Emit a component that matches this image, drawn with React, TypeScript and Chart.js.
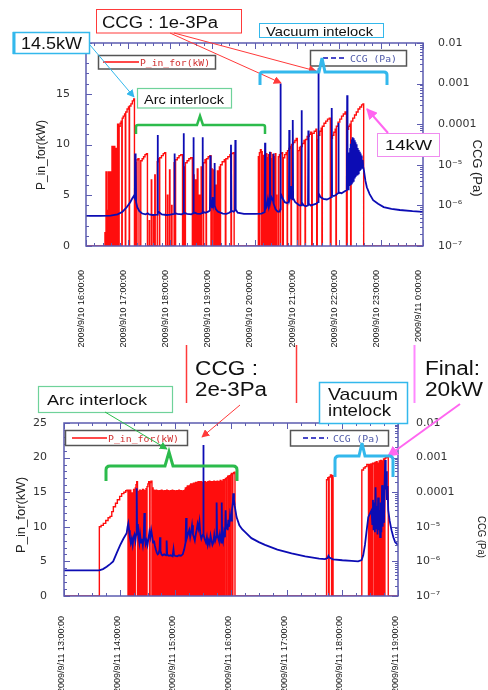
import React, { useEffect, useRef } from 'react';
import { Chart, registerables } from 'chart.js';
Chart.register(...registerables);

// ---------------- axis labels ----------------
const topXLabels = [
  '2009/9/10 16:00:00', '2009/9/10 17:00:00', '2009/9/10 18:00:00', '2009/9/10 19:00:00',
  '2009/9/10 20:00:00', '2009/9/10 21:00:00', '2009/9/10 22:00:00', '2009/9/10 23:00:00',
  '2009/9/11 0:00:00',
];
const botXLabels = [
  '2009/9/11 13:00:00', '2009/9/11 14:00:00', '2009/9/11 15:00:00', '2009/9/11 16:00:00',
  '2009/9/11 17:00:00', '2009/9/11 18:00:00', '2009/9/11 19:00:00',
];
const topKwTicks = [0, 5, 10, 15, 20];
const topKwTickText = ['0', '5', '10', '15', ''];
const botKwTicks = [0, 5, 10, 15, 20, 25];
const botKwTickText = ['0', '5', '10', '15', '20', '25'];
const ccgTicks = [1e-7, 1e-6, 1e-5, 1e-4, 1e-3, 1e-2];
const ccgTickText = ['10⁻⁷', '10⁻⁶', '10⁻⁵', '0.0001', '0.001', '0.01'];

// ---------------- top chart data (minutes after 2009/9/10 16:00) ----------------
// P_in_for (kW), stepped: each value holds until the next time
const topPower: [number, number][] = [
  [0, 0],
  [27, 1.3], [28, 0], [28.5, 7.3], [29.2, 0], [30, 3.5], [30.6, 0], [31.5, 7.3], [33, 0], [33.6, 2], [34.2, 0], [35, 7.3], [35.8, 0],
  [37, 9.8], [38.2, 0], [39, 9.8], [41, 0], [42, 9.6], [43, 0], [45, 12.0], [46.4, 0], [47.2, 11.8], [48.6, 12.1], [50, 12.3], [51, 0],
  [51.6, 12.6], [53, 12.8], [55, 13.0], [56, 0], [56.6, 13.2], [58.5, 13.5], [60.5, 13.7], [61.5, 0], [62, 13.8], [64, 14.0], [66, 14.3], [68, 14.5], [69, 0],
  [71, 8.2], [72, 0], [72.6, 8.5], [74, 8.6], [75.5, 0],
  [78, 8.4], [80, 8.6], [82, 8.8], [84, 9.0], [86, 9.1], [87.5, 0],
  [90, 2.5], [90.5, 0], [93, 6.5], [93.6, 0], [96, 3], [96.5, 0], [98, 7], [98.6, 0],
  [101.5, 8.3], [103, 8.6], [104.5, 0], [105, 8.7], [107.5, 8.9], [110, 9.1], [112, 9.2], [113.5, 0],
  [116, 5], [116.6, 0], [119, 7.5], [119.6, 0], [122, 4], [122.5, 0],
  [125.5, 8.2], [127, 0], [127.6, 8.5], [130, 8.7], [132.5, 8.9], [135, 9.0], [137.5, 0],
  [139.5, 7.8], [141, 0], [141.6, 8.2], [144, 8.4], [146.5, 8.6], [149, 8.7], [151.5, 0],
  [153, 7], [154, 0], [156, 6.5], [156.7, 0], [158.5, 7.6], [159.5, 0], [161.5, 5], [162, 0], [164, 7.8], [165, 0],
  [167.5, 8.2], [169.5, 8.5], [171, 0], [171.6, 8.6], [174, 8.8], [176.5, 8.9], [178, 0], [179, 7.6], [179.8, 0],
  [182, 7.5], [183, 0], [185, 6], [185.6, 0], [187.2, 7.4], [188, 0],
  [190, 7.8], [191, 0], [191.6, 8.0], [194, 8.3], [197, 8.5], [198.5, 0], [199.2, 8.6], [202, 8.8], [205, 9.0], [206.5, 0], [207.2, 9.1], [209.5, 9.2], [211, 0],
  [245.5, 8.8], [246.5, 0], [247, 9.2], [248.5, 9.5], [249.5, 0], [250.2, 9.3], [251, 0], [251.6, 2.5], [252, 0],
  [252.8, 8.9], [253.4, 0], [254.2, 9.0], [254.8, 0], [255.6, 8.8], [256.2, 0], [257, 9.1], [257.6, 0], [258.4, 8.7], [259, 0],
  [260, 9.0], [260.6, 0], [261.4, 8.9], [262, 0], [263, 9.2], [263.6, 0], [264.4, 8.6], [265, 0], [266, 9.0], [266.7, 0],
  [267.8, 8.8], [268.4, 0], [269.6, 9.1], [270.4, 0], [271.2, 5], [271.7, 0],
  [274, 8.8], [275.5, 9.0], [276.5, 0], [277.2, 9.1], [279, 9.2], [280, 0],
  [281, 8.7], [283, 9.0], [285, 9.2], [286.5, 0], [287, 9.4], [289, 9.6], [291, 9.8], [292, 0], [292.6, 10.0], [295, 10.2], [297.5, 10.4], [299.5, 10.6], [301, 0],
  [302, 9.4], [304, 9.7], [305, 0], [305.6, 9.8], [308, 10.1], [310.5, 10.4], [312, 0], [312.6, 10.5], [315, 10.8], [318, 11.0], [320, 11.2], [321.5, 0],
  [322.2, 11.1], [325, 11.3], [327.5, 11.5], [328.6, 0],
  [329.4, 10.5], [331, 10.9], [333, 11.3], [335, 11.6], [336, 0], [336.6, 11.8], [339, 12.1], [341.5, 12.3], [344, 12.5], [346.5, 12.6], [348, 0],
  [349, 10.6], [351, 10.9], [353, 11.2], [355, 11.5], [356, 0], [356.6, 11.8], [359, 12.2], [361.5, 12.5], [364, 12.8], [366.5, 13.0], [369, 13.2], [371, 0],
  [372, 11.5], [374, 11.8], [376, 12.0], [377, 0], [377.6, 12.3], [380, 12.6], [382.5, 12.9], [385, 13.2], [387.5, 13.5], [390, 13.7], [392.5, 13.9], [394.5, 14.0], [395.5, 0],
  [480, 0],
];

// CCG (Pa)
const topCCG: [number, number][] = [
  [0, 5.5e-7], [20, 5.5e-7], [35, 5.6e-7], [45, 6e-7], [52, 7e-7], [58, 9e-7], [63, 1.2e-6], [66, 1.5e-6], [68, 1.7e-6],
  [69.5, 1.5e-6], [70, 1.9e-5], [70.4, 1.4e-6], [71, 1.2e-5], [71.4, 1.2e-6], [73, 9e-7], [76, 7.2e-7], [80, 6.3e-7], [85, 6e-7], [88, 6.4e-7], [90, 6e-7], [95, 5.8e-7],
  [101.5, 5.9e-7], [102, 5.4e-5], [102.5, 6.5e-7], [104, 6.8e-7], [108, 6e-7], [115, 5.8e-7], [120, 5.9e-7],
  [125.5, 6.2e-7], [126, 1.9e-5], [126.5, 6.5e-7], [130, 6.2e-7], [136, 6e-7],
  [138.5, 6.3e-7], [139, 6e-5], [139.5, 6.6e-7], [144, 6.2e-7], [150, 6e-7],
  [152.5, 6.4e-7], [153, 4.8e-5], [153.5, 6.8e-7], [158, 6.3e-7], [163, 6.2e-7],
  [165.5, 6.5e-7], [166, 4.8e-5], [166.5, 7e-7], [170, 6.6e-7], [174, 7e-7],
  [176.5, 7.5e-7], [177, 1.7e-5], [177.5, 9e-7], [178.5, 1.4e-6], [179.5, 9e-7], [180.5, 1.6e-6], [181.5, 1e-6], [182.5, 1.2e-6], [183, 1.1e-5], [183.5, 1e-6],
  [185, 8e-7], [188, 7e-7], [195, 6.3e-7], [200, 6.2e-7], [204, 6.6e-7],
  [206, 7e-7], [206.5, 3.1e-5], [207, 7.5e-7], [210, 7e-7], [212.2, 7.5e-7], [212.7, 4.1e-5], [213.2, 8e-7], [216, 6.6e-7], [225, 6.2e-7], [240, 6.2e-7], [250, 6.3e-7],
  [254.5, 6.8e-7], [255, 3.5e-5], [255.5, 8e-7], [257, 9e-7], [259, 1.4e-6], [260, 1e-6], [261.5, 1.5e-6], [262, 2.1e-5], [262.5, 1.2e-6], [264, 1.6e-6],
  [266.5, 1.3e-6], [267, 1.9e-5], [267.5, 1.1e-6], [270, 8e-7], [273, 7e-7], [276, 7e-7],
  [276.6, 8e-7], [277, 1.0e-3], [277.4, 2e-6], [280, 1.5e-6], [283, 1.2e-6], [286, 1.15e-6],
  [289, 1.2e-6], [289.5, 7.2e-5], [290, 1.4e-6], [291, 1.6e-6], [292, 3e-6], [293, 1.5e-6], [294, 1.4e-6], [294.5, 1.26e-4], [295, 1.5e-6],
  [298, 1.2e-6], [301, 1.1e-6], [304, 1e-6],
  [306.5, 1e-6], [307, 2.2e-4], [307.5, 1.2e-6], [310, 1e-6], [313, 9.5e-7], [316.2, 1e-6], [316.7, 7e-5], [317.2, 1.1e-6], [320, 1e-6], [324, 1.05e-6], [328, 1.1e-6],
  [330.5, 1.2e-6], [331, 2.4e-3], [331.5, 2e-6], [334, 1.6e-6], [338, 1.45e-6], [343, 1.4e-6], [347, 1.5e-6],
  [349.5, 1.6e-6], [350, 2.5e-4], [350.5, 1.8e-6], [353, 1.7e-6], [356, 1.8e-6], [359, 2e-6], [359.5, 1.07e-4], [360, 2.1e-6], [364, 2e-6], [368, 2.2e-6],
  [371.5, 2.4e-6], [372, 5.2e-4], [372.5, 3e-6],
  [373.2, 2.5e-6], [373.8, 1.5e-5], [374.4, 2.8e-6], [375, 2e-5], [375.6, 3e-6], [376.2, 2.6e-5], [376.8, 3.2e-6], [377.4, 3.3e-5], [378, 3.5e-6],
  [378.6, 4.2e-5], [379.2, 3.8e-6], [379.8, 4.8e-5], [380.4, 4e-6], [381, 4.5e-5], [381.6, 4.3e-6], [382.2, 4e-5], [382.8, 4.6e-6], [383.4, 3.6e-5],
  [384, 5e-6], [384.6, 3.2e-5], [385.2, 5.4e-6], [385.8, 2.9e-5], [386.4, 5.8e-6], [387, 2.6e-5], [387.6, 6.2e-6], [388.2, 2.3e-5], [388.8, 6.6e-6],
  [389.4, 2.1e-5], [390, 7e-6], [390.6, 1.9e-5], [391.2, 7.5e-6], [391.8, 1.7e-5], [392.4, 8e-6], [393, 1.5e-5], [393.6, 8.5e-6], [394.2, 1.3e-5], [394.8, 9e-6],
  [396, 7e-6], [398, 4e-6], [400, 2.8e-6], [404, 1.9e-6], [409, 1.35e-6], [416, 1.1e-6], [424, 9.1e-7], [435, 8.2e-7], [447, 7.7e-7], [465, 7.2e-7], [480, 6.9e-7],
];

// ---------------- bottom chart data (minutes after 2009/9/11 13:00) ----------------
const botPower: [number, number][] = [
  [0, 0],
  [38.1, 10.0], [40, 10.2], [42.4, 10.5], [45, 10.9], [47.5, 11.3], [49.6, 11.5], [51.5, 12.2], [53.2, 12.9], [55.5, 13.4], [57.5, 13.9],
  [60, 14.4], [62.1, 14.8], [64.5, 15.0], [66.5, 15.2], [67.8, 15.3], [69, 0],
  [69.6, 15.3], [70.2, 0], [71.4, 15.3], [72, 0], [73.5, 14.9], [74.1, 0], [75, 15.4], [76.2, 0], [76.8, 15.6], [77.6, 16.1], [78.4, 16.5], [79.2, 0],
  [80.1, 15.1], [80.6, 0], [81.4, 15.3], [82.3, 0], [83.3, 15.2], [83.8, 0], [84.6, 15.4], [85.5, 0], [86, 15.3], [86.5, 0], [87.2, 15.2], [87.7, 0],
  [88.4, 15.5], [89, 0], [89.5, 15.8], [90.4, 16.2], [91.3, 16.5], [92.2, 0], [92.8, 16.4], [93.8, 16.6], [94.8, 0], [95.4, 15.6], [96, 0],
  [96.7, 15.3], [97.2, 0], [97.9, 15.2], [98.6, 0], [99.2, 15.3], [99.8, 0],
  [100.3, 15.2], [100.9, 0], [101.4, 15.1], [102.1, 0], [102.5, 15.2], [103.2, 0], [103.9, 15.2], [104.3, 0], [104.9, 15.3], [105.6, 0],
  [106, 15.2], [106.8, 0], [107.2, 15.1], [107.7, 0], [108.5, 15.2], [109, 0], [109.4, 15.2], [110.1, 0], [110.7, 15.3], [111.2, 0],
  [111.9, 15.2], [112.4, 0], [113, 15.1], [113.8, 0], [114.2, 15.2], [114.9, 0], [115.5, 15.2], [116, 0], [116.7, 15.3], [117.1, 0],
  [117.9, 15.2], [118.5, 0], [119, 15.2], [119.7, 0], [120.2, 15.1], [120.8, 0], [121.5, 15.2], [122, 0], [122.6, 15.2], [123.3, 0],
  [123.8, 15.3], [124.4, 0], [125, 15.2], [125.6, 0], [126.3, 15.2], [126.8, 0], [127.4, 15.1], [128.1, 0], [128.6, 15.2], [129.3, 0],
  [130, 15.3], [130.8, 15.6], [131.5, 0], [132.2, 15.7], [133, 15.9], [133.6, 0], [134.4, 15.9], [135, 0], [135.8, 16.0], [136.6, 16.2], [137.3, 0],
  [138, 16.2], [138.6, 0], [139.5, 16.3], [140.2, 0], [140.9, 16.3], [141.8, 16.4], [142.4, 0], [143.2, 16.4], [143.8, 0], [144.5, 16.5], [145.3, 0],
  [146, 16.5], [146.6, 0],
  [147.3, 16.5], [148, 0], [148.8, 16.4], [149.5, 0], [150.2, 16.5], [151, 0], [151.6, 16.5], [152.4, 0], [153.5, 16.4], [154.1, 0], [155, 16.5], [155.8, 0],
  [156.6, 16.6], [157.2, 0], [158.4, 16.5], [159, 0], [160, 16.5], [160.8, 0], [161.5, 16.6], [162.3, 0], [163.4, 16.5], [164, 0], [165, 16.6], [165.8, 0],
  [166.5, 16.5], [167.2, 0], [168.3, 16.7], [169, 0], [170, 16.6], [170.7, 0], [171.6, 16.8], [172.4, 0], [173.2, 16.8], [174, 17.0], [174.8, 0],
  [175.6, 17.1], [176.4, 17.3], [177.2, 0], [178, 17.4], [178.8, 0], [179.6, 17.5], [180.4, 17.7], [181.2, 0], [182, 17.7], [182.8, 17.8], [183.6, 17.9], [184.3, 0],
  [283, 16.8], [284.3, 17.1], [285.2, 0], [285.8, 17.2], [287.2, 17.5], [288.4, 0], [289, 17.4], [290, 0],
  [321, 18.2], [322.8, 18.5], [324.6, 18.7], [326.4, 19.0], [328.2, 0], [328.9, 19.0], [330.2, 0], [330.8, 19.1], [331.8, 0], [332.6, 19.2], [333.6, 19.1], [334.4, 0],
  [335.1, 19.3], [335.9, 0], [336.6, 19.4], [337.5, 0], [338.3, 19.2], [339, 0], [339.8, 19.5], [340.7, 0], [341.3, 19.6], [342.1, 0], [342.9, 19.5], [343.7, 0],
  [344.4, 19.8], [345.3, 0], [345.9, 19.9], [346.8, 20.0], [347.9, 20.0], [349.5, 0],
  [360, 0],
];

const botCCG: [number, number][] = [
  [0, 5.5e-7], [38, 5.5e-7], [42, 6e-7], [46, 7e-7], [50, 8.5e-7], [53, 1e-6], [57, 1.8e-6], [60.4, 2.9e-6], [64, 4.5e-6], [67.5, 6.5e-6], [68.5, 1.0e-5], [69.3, 1.26e-5],
  [70.2, 8e-6], [71, 5e-6], [72, 3.4e-6], [73, 4.5e-6], [74, 3e-6], [75, 5e-6], [76, 6e-6], [77, 4e-6], [77.8, 6e-6], [78.3, 1.3e-4], [78.8, 8e-6], [79.6, 1.2e-5],
  [80.4, 5e-6], [81.2, 3.5e-6], [82, 6e-6], [83, 3.5e-6], [84, 4.5e-6], [85, 3e-6], [86, 5.5e-6], [86.6, 2.5e-5], [87.2, 5e-6], [88, 3.2e-6], [89, 4e-6],
  [90, 3e-6], [91, 4.5e-6], [92, 7e-6], [93, 5e-6], [94, 8e-6], [95, 5.5e-6], [96, 3.5e-6], [97, 4e-6], [98, 2.8e-6],
  [99, 2.2e-6], [100, 1.8e-6], [101, 1.6e-6], [102, 1.7e-6], [103, 2.2e-6], [103.5, 5e-6], [104, 2e-6], [105, 1.6e-6], [106, 1.5e-6], [108, 1.6e-6], [110, 1.5e-6],
  [110.6, 4e-6], [111.2, 1.6e-6], [113, 1.45e-6], [115, 1.5e-6], [117, 1.4e-6], [118, 2.2e-6], [118.6, 1.5e-6], [120, 1.45e-6], [122, 1.4e-6], [124, 1.5e-6],
  [126, 1.45e-6], [128, 1.6e-6],
  [129.5, 2.2e-6], [131, 3.5e-6], [131.6, 1.8e-5], [132.2, 4.5e-6], [133.5, 6e-6], [135, 8e-6], [136, 5e-6], [137, 7e-6], [138, 1.1e-5], [139, 6e-6], [140, 5e-6],
  [141, 4e-6], [142, 6e-6], [143, 8e-6], [144, 1.2e-5], [145, 9e-6], [146, 1.4e-5], [147, 6e-6], [148, 4.5e-6], [149, 5.5e-6],
  [149.9, 6e-6], [150.2, 2.3e-3], [150.5, 6e-6], [151.5, 4.5e-6], [153, 3.5e-6], [154, 5e-6], [155, 3e-6], [156, 4e-6], [157, 3.2e-6], [158, 5.5e-6], [159, 4e-6],
  [160, 3e-6], [161, 3.5e-6], [162, 6e-6], [163, 4e-6], [164, 5e-6], [164.5, 5e-5], [165, 7e-6], [166, 5e-6], [167, 4e-6], [168, 6e-6], [169.5, 3.5e-6],
  [170, 5e-5], [170.5, 6e-6], [171.5, 4e-6], [172.5, 7e-6], [173.5, 5e-6], [174.2, 3e-5], [174.8, 9e-6], [175.6, 1.2e-5], [176.4, 8e-6], [177.2, 1.6e-5],
  [178, 1e-5], [179, 2.2e-5], [180, 1.5e-5], [181, 3e-5], [182, 5e-5], [182.5, 9.3e-5], [183.2, 6e-5], [184, 4e-5],
  [186, 1.9e-5], [189, 1.1e-5], [192, 8.5e-6], [195, 7.1e-6], [202, 4.7e-6], [210, 3.6e-6], [216.6, 3e-6], [230, 2.2e-6], [245.3, 1.7e-6], [260, 1.4e-6],
  [275, 1.2e-6], [281.3, 1.16e-6], [284, 1.25e-6], [285, 1.45e-6], [286, 1.3e-6], [290, 1.15e-6], [300, 1.08e-6], [310, 1.03e-6], [317, 1e-6],
  [320.8, 1.1e-6], [322.5, 1.5e-6], [324.4, 3e-6], [326, 7e-6], [328, 1.9e-5], [330, 2.5e-5], [331.5, 3e-5],
  [332.3, 1.2e-5], [333, 6e-5], [333.7, 8e-6], [334.4, 5e-5], [335.1, 7e-6], [335.8, 1.4e-4], [336.5, 9e-6], [337.2, 4e-5], [337.9, 6e-6], [338.6, 7e-5],
  [339.3, 8e-6], [340, 3e-5], [340.7, 5e-6], [341.4, 5e-5], [342.1, 7e-6], [342.8, 1.6e-4], [343.5, 1e-5], [344.2, 6e-5], [344.9, 1.3e-5], [345.6, 2e-4],
  [346.2, 8.5e-4], [346.8, 1.2e-4], [347.4, 4e-4], [348, 6e-5], [348.7, 1.5e-4], [349.5, 3e-5],
  [351, 1.5e-5], [353, 8e-6], [355, 5e-6], [357, 3.6e-6], [360, 3e-6],
];

// ---------------- chart building ----------------
const FRAME = '#5c5cb0';
const RED = '#ff0d0d';
const BLUE = '#0c0cb4';

function framePlugin(xMinor: number) {
  return {
    id: 'frameTicks',
    afterDatasetsDraw(chart: any) {
      const { ctx, chartArea: a, scales } = chart;
      const sx = scales.x, sy = scales.y, sy2 = scales.y2;
      ctx.save();
      ctx.strokeStyle = FRAME;
      ctx.lineWidth = 1;
      const seg = (x1: number, y1: number, x2: number, y2: number) => {
        ctx.beginPath(); ctx.moveTo(x1, y1); ctx.lineTo(x2, y2); ctx.stroke();
      };
      for (let v = 0; v <= sy.max + 1e-9; v += 1) {
        const p = Math.round(sy.getPixelForValue(v)) + 0.5;
        seg(a.left, p, a.left + (v % 5 === 0 ? 6 : 3), p);
      }
      for (let e = -7; e <= -2; e++) {
        for (let m = 1; m <= 9; m++) {
          const v = m * Math.pow(10, e);
          if (v > sy2.max * 1.0001) break;
          const p = Math.round(sy2.getPixelForValue(v)) + 0.5;
          seg(a.right, p, a.right - (m === 1 ? 6 : 3), p);
        }
      }
      for (let t = 0; t <= sx.max + 1e-9; t += xMinor) {
        const p = Math.round(sx.getPixelForValue(t)) + 0.5;
        const len = t % 60 === 0 ? 6 : 3;
        seg(p, a.bottom, p, a.bottom - len);
        seg(p, a.top, p, a.top + len);
      }
      ctx.lineWidth = 1.5;
      ctx.strokeRect(a.left, a.top, a.right - a.left, a.bottom - a.top);
      ctx.restore();
    },
  };
}

type Spec = {
  power: [number, number][];
  ccg: [number, number][];
  xMax: number;
  xLabels: string[];
  xPad: number;
  xLabelOffset: number;
  kwTicks: number[];
  kwText: string[];
  padTop: number;
  leftW: number;
  rightW: number;
  bottomH: number;
  yPadL: number;
  yPadR: number;
  xMinor: number;
};

function buildConfig(s: Spec): any {
  const tickFont = { family: 'DejaVu Sans', size: 11 };
  return {
    type: 'line',
    data: {
      datasets: [
        {
          label: 'CCG (Pa)',
          data: s.ccg.map(([x, y]) => ({ x, y })),
          yAxisID: 'y2',
          borderColor: BLUE,
          borderWidth: 1.8,
          pointRadius: 0,
          pointHitRadius: 0,
          tension: 0,
          order: 0,
        },
        {
          label: 'P_in_for(kW)',
          data: s.power.map(([x, y]) => ({ x, y })),
          yAxisID: 'y',
          borderColor: RED,
          borderWidth: 1.4,
          pointRadius: 0,
          pointHitRadius: 0,
          stepped: true,
          order: 1,
        },
      ],
    },
    options: {
      responsive: false,
      animation: false,
      events: [],
      layout: { padding: { top: s.padTop, left: 0, right: 0, bottom: 0 }, autoPadding: false },
      plugins: { legend: { display: false }, tooltip: { enabled: false } },
      scales: {
        x: {
          type: 'linear',
          min: 0,
          max: s.xMax,
          afterBuildTicks: (sc: any) => { sc.ticks = s.xLabels.map((_, i) => ({ value: i * 60 })); },
          afterFit: (sc: any) => { sc.height = s.bottomH; },
          grid: { display: false },
          border: { display: false },
          ticks: {
            autoSkip: false,
            minRotation: 90,
            maxRotation: 90,
            padding: s.xPad,
            labelOffset: s.xLabelOffset,
            color: '#111',
            font: { family: 'Liberation Sans', size: 9 },
            callback: (_v: any, i: number) => s.xLabels[i],
          },
        },
        y: {
          type: 'linear',
          position: 'left',
          min: 0,
          max: s.kwTicks[s.kwTicks.length - 1],
          afterBuildTicks: (sc: any) => { sc.ticks = s.kwTicks.map((v) => ({ value: v })); },
          afterFit: (sc: any) => { sc.width = s.leftW; },
          grid: { display: false },
          border: { display: false },
          ticks: {
            autoSkip: false,
            padding: s.yPadL,
            color: '#333',
            font: tickFont,
            callback: (_v: any, i: number) => s.kwText[i],
          },
        },
        y2: {
          type: 'logarithmic',
          position: 'right',
          min: ccgTicks[0],
          max: ccgTicks[ccgTicks.length - 1],
          afterBuildTicks: (sc: any) => { sc.ticks = ccgTicks.map((v) => ({ value: v })); },
          afterFit: (sc: any) => { sc.width = s.rightW; },
          grid: { display: false },
          border: { display: false },
          ticks: {
            autoSkip: false,
            padding: s.yPadR,
            color: '#333',
            font: tickFont,
            callback: (_v: any, i: number) => ccgTickText[i],
          },
        },
      },
    },
    plugins: [framePlugin(s.xMinor)],
  };
}

function PlotCanvas({ spec, top, height }: { spec: Spec; top: number; height: number }) {
  const ref = useRef<HTMLCanvasElement>(null);
  useEffect(() => {
    const chart = new Chart(ref.current as HTMLCanvasElement, buildConfig(spec));
    return () => chart.destroy();
  }, []);
  return (
    <canvas
      ref={ref}
      width={488}
      height={height}
      style={{ position: 'absolute', left: 0, top, width: 488, height, display: 'block' }}
    />
  );
}

const topSpec: Spec = {
  power: topPower, ccg: topCCG, xMax: 480, xLabels: topXLabels, xPad: 16, xLabelOffset: -4.5,
  kwTicks: topKwTicks, kwText: topKwTickText, padTop: 43, leftW: 86, rightW: 65, bottomH: 104,
  yPadL: 8, yPadR: 7, xMinor: 12,
};
const botSpec: Spec = {
  power: botPower, ccg: botCCG, xMax: 360, xLabels: botXLabels, xPad: 12, xLabelOffset: -2.5,
  kwTicks: botKwTicks, kwText: botKwTickText, padTop: 73, leftW: 64, rightW: 90, bottomH: 94,
  yPadL: 9, yPadR: 10, xMinor: 15,
};

// ---------------- annotations ----------------
const SANS = 'Liberation Sans, Arial, sans-serif';
const MONO = 'DejaVu Sans Mono, monospace';
const C_RED = '#ff3a3a';
const C_CYAN = '#33b8ec';
const C_MAG = '#ff66f0';
const C_GREEN = '#2cbb4c';
const C_GREEN_BOX = '#6fd29a';

function T({ x, y, s, len, text, fill = '#111', family = SANS }: any) {
  return (
    <text x={x} y={y} fontSize={s} fontFamily={family} fill={fill} textLength={len} lengthAdjust="spacingAndGlyphs">
      {text}
    </text>
  );
}

function Overlay() {
  const marker = (id: string, c: string, size: number) => (
    <marker id={id} viewBox="0 0 10 10" refX="9" refY="5" markerWidth={size} markerHeight={size}
      markerUnits="userSpaceOnUse" orient="auto">
      <path d="M0,0 L10,5 L0,10 z" fill={c} />
    </marker>
  );
  return (
    <svg width={488} height={690} style={{ position: 'absolute', left: 0, top: 0 }}>
      <defs>
        {marker('ahR', C_RED, 8)}
        {marker('ahC', C_CYAN, 8)}
        {marker('ahM', C_MAG, 11)}
        {marker('ahG', C_GREEN, 8)}
      </defs>

      {/* axis titles */}
      <text transform="translate(41,155) rotate(-90)" textAnchor="middle" dominantBaseline="central"
        fontSize={12.5} fontFamily={SANS} fill="#222" textLength={70} lengthAdjust="spacingAndGlyphs">P_in_for(kW)</text>
      <text transform="translate(477,168) rotate(90)" textAnchor="middle" dominantBaseline="central"
        fontSize={13} fontFamily={SANS} fill="#222" textLength={57} lengthAdjust="spacingAndGlyphs">CCG (Pa)</text>
      <text transform="translate(20,515) rotate(-90)" textAnchor="middle" dominantBaseline="central"
        fontSize={13} fontFamily={SANS} fill="#222" textLength={76} lengthAdjust="spacingAndGlyphs">P_in_for(kW)</text>
      <text transform="translate(482,537) rotate(90)" textAnchor="middle" dominantBaseline="central"
        fontSize={11} fontFamily={SANS} fill="#222" textLength={42} lengthAdjust="spacingAndGlyphs">CCG (Pa)</text>

      {/* ---- top legends ---- */}
      <rect x={98.5} y={55.5} width={117} height={13.5} fill="#fff" stroke="#555" strokeWidth={1.5} />
      <line x1={103} y1={62} x2={139} y2={62} stroke={RED} strokeWidth={1.5} />
      <T x={140} y={65.5} s={9.5} len={70} text="P_in_for(kW)" fill="#d03030" family={MONO} />
      <rect x={310.5} y={50.5} width={96} height={15.5} fill="#fff" stroke="#555" strokeWidth={1.5} />
      <line x1={323} y1={58} x2={347} y2={58} stroke={BLUE} strokeWidth={1.5} strokeDasharray="5 3" />
      <T x={350} y={61.5} s={9.5} len={47} text="CCG (Pa)" fill="#4d58a8" family={MONO} />

      {/* ---- top annotations ---- */}
      <rect x={96.5} y={9.5} width={145} height={23.5} fill="#fff" stroke={C_RED} strokeWidth={1} />
      <T x={102} y={27.5} s={16} len={116} text="CCG : 1e-3Pa" />
      <line x1={170} y1={33} x2={281} y2={83} stroke={C_RED} strokeWidth={1} markerEnd="url(#ahR)" />
      <line x1={174} y1={33} x2={316} y2={71} stroke={C_RED} strokeWidth={1} markerEnd="url(#ahR)" />

      <rect x={13.5} y={32.5} width={76} height={21} fill="#fff" stroke={C_CYAN} strokeWidth={1.5} />
      <line x1={14} y1={32} x2={14} y2={54} stroke={C_CYAN} strokeWidth={3} />
      <T x={21} y={48.5} s={16} len={61} text="14.5kW" />
      <line x1={90} y1={45} x2={134} y2={97} stroke={C_CYAN} strokeWidth={1} markerEnd="url(#ahC)" />

      <rect x={259.5} y={23.5} width={124} height={14} fill="#fff" stroke={C_CYAN} strokeWidth={1} />
      <T x={266} y={35.5} s={13} len={107} text="Vacuum intelock" />
      <path d="M260,85 L260,75 Q260,72 263,72 L319,72 L322,58 L325,72 L384,72 Q387,72 387,75 L387,85"
        fill="none" stroke={C_CYAN} strokeWidth={3} />

      <rect x={137.5} y={88.5} width={94} height={19.5} fill="#fff" stroke={C_GREEN_BOX} strokeWidth={1.2} />
      <T x={144} y={103.5} s={12.5} len={80} text="Arc interlock" />
      <path d="M136,134 L136,127 Q136,125 138,125 L197,125 L200,116 L203,125 L263,125 Q265,125 265,127 L265,134"
        fill="none" stroke={C_GREEN} strokeWidth={2.5} />

      <rect x={377.5} y={133.5} width={62} height={23} fill="#fff" stroke="#f08cf0" strokeWidth={1} />
      <T x={385} y={150} s={14} len={47} text="14kW" />
      <line x1={388} y1={133} x2={367} y2={109} stroke={C_MAG} strokeWidth={2} markerEnd="url(#ahM)" />

      {/* ---- bottom legends ---- */}
      <rect x={65.5} y={430.5} width={122} height={15} fill="#fff" stroke="#555" strokeWidth={1.5} />
      <line x1={72} y1={438} x2={107} y2={438} stroke={RED} strokeWidth={1.5} />
      <T x={108} y={441.5} s={9.5} len={71} text="P_in_for(kW)" fill="#d03030" family={MONO} />
      <rect x={290.5} y={430.5} width={98} height={15.5} fill="#fff" stroke="#555" strokeWidth={1.5} />
      <line x1={303} y1={438} x2={328} y2={438} stroke={BLUE} strokeWidth={1.5} strokeDasharray="5 3" />
      <T x={333} y={442} s={9.5} len={47} text="CCG (Pa)" fill="#4d58a8" family={MONO} />

      {/* ---- bottom annotations ---- */}
      <line x1={186.5} y1={345} x2={186.5} y2={403} stroke={C_RED} strokeWidth={1.5} />
      <line x1={296.5} y1={345} x2={296.5} y2={403} stroke={C_RED} strokeWidth={1.5} />
      <T x={195} y={375} s={20} len={63} text="CCG :" />
      <T x={195} y={396} s={20} len={72} text="2e-3Pa" />
      <line x1={240} y1={405} x2={202} y2={437} stroke={C_RED} strokeWidth={1} markerEnd="url(#ahR)" />

      <line x1={414.5} y1={345} x2={414.5} y2={403} stroke="#ff88ff" strokeWidth={2} />
      <T x={425} y={375} s={20} len={55} text="Final:" />
      <T x={425} y={396} s={20} len={58} text="20kW" />
      <line x1={460} y1={404} x2={388} y2={456} stroke={C_MAG} strokeWidth={2} markerEnd="url(#ahM)" />

      <rect x={319.5} y={382.5} width={88} height={41} fill="#fff" stroke={C_CYAN} strokeWidth={1.5} />
      <T x={328} y={400} s={17} len={70} text="Vacuum" />
      <T x={328} y={416} s={17} len={63} text="intelock" />
      <path d="M335,477 L335,460 Q335,456 339,456 L359,456 L362,443 L365,456 L389,456 Q393,456 393,460 L393,477"
        fill="none" stroke={C_CYAN} strokeWidth={3} />

      <rect x={38.5} y={386.5} width={134} height={26} fill="#fff" stroke={C_GREEN_BOX} strokeWidth={1.2} />
      <T x={47} y={405} s={15} len={100} text="Arc interlock" />
      <line x1={105} y1={412} x2={167} y2={449} stroke={C_GREEN} strokeWidth={1} markerEnd="url(#ahG)" />
      <path d="M106,481 L106,470 Q106,466 110,466 L165,466 L169,452 L173,466 L233,466 Q237,466 237,470 L237,481"
        fill="none" stroke={C_GREEN} strokeWidth={3} />
    </svg>
  );
}

export default function App() {
  return (
    <div style={{ position: 'absolute', left: 0, top: 0, width: 488, height: 690, background: '#fff', overflow: 'hidden' }}>
      <PlotCanvas spec={topSpec} top={0} height={350} />
      <PlotCanvas spec={botSpec} top={350} height={340} />
      <Overlay />
    </div>
  );
}
